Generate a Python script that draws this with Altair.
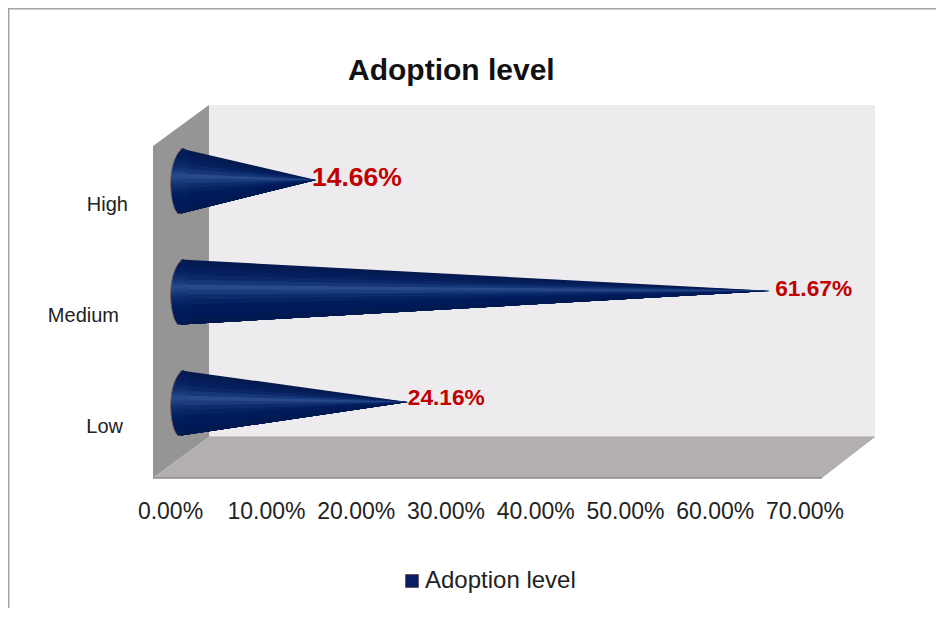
import altair as alt
import pandas as pd

FONT = "Liberation Sans"
categories = ["High", "Medium", "Low"]
values = [0.1466, 0.6167, 0.2416]
rows = [2, 1, 0]
ticks = [0, 0.1, 0.2, 0.3, 0.4, 0.5, 0.6, 0.7]
series = ["Adoption level"]
title = "Adoption level"

shades = ["#051a4f", "#041c57", "#06205e", "#0b2868", "#163677", "#264a8d", "#1b3b7c",
          "#0d2c6c", "#052262", "#001c5c", "#001b5a", "#001a56", "#02194f"]

# picture-space scales for the 3-D box (reference pixels)
PX = alt.Scale(domain=[8, 936], range=[0, 928])
PY = alt.Scale(domain=[8, 608], range=[0, 600])
CONE_X = alt.Scale(domain=[0, 0.7], range=[166.4, 842.6])
ROW_Y = alt.Scale(domain=[0, 2], range=[395, 173])
AXIS_X = alt.Scale(domain=[0, 0.1, 0.7], range=[162, 258, 796.5])


def box(color, xs, ys, y2s):
    d = pd.DataFrame({"x": xs, "y": ys, "y2": y2s})
    return alt.Chart(d).mark_area(color=color, orient="vertical", opacity=1).encode(
        x=alt.X("x:Q", scale=PX, axis=None),
        y=alt.Y("y:Q", scale=PY, axis=None),
        y2="y2:Q",
    )


def segment(color, width, x0, y0, x1, y1):
    d = pd.DataFrame({"x": [x0, x1], "y": [y0, y1]})
    return alt.Chart(d).mark_line(color=color, strokeWidth=width).encode(
        x=alt.X("x:Q", scale=PX, axis=None),
        y=alt.Y("y:Q", scale=PY, axis=None),
    )


back = box("#edebed", [209, 875], [105, 105], [437, 437])
left = box("#959595", [153, 209], [146, 105], [478, 437])
floor = box("#b2afae", [153, 209, 822, 875], [478, 437, 437, 437], [478, 478, 478, 437])
floor_edge = segment("#8d8b8a", 1.5, 153, 478, 822, 478)
floor_back = segment("#a9a6a5", 1, 209, 437, 875, 437)
frame_top = segment("#a3a3a3", 1.5, 8, 8.7, 936, 8.7)
frame_left = segment("#a3a3a3", 1.5, 8.7, 8, 8.7, 608)

# cones: nested slices fanning towards the tip, painted top to bottom
HALF = 0.293
TIP = 0.01
BASE = 0.0065
cone_rows = []
n = len(shades)
for cat, val, r in zip(categories, values, rows):
    for i, c in enumerate(shades):
        key = f"{cat}-{i:02d}"
        cone_rows.append({"k": key, "c": c, "x": BASE, "y": r + HALF - 2 * HALF * i / n, "y2": r - HALF})
        cone_rows.append({"k": key, "c": c, "x": val, "y": r + TIP, "y2": r + TIP})
cones = alt.Chart(pd.DataFrame(cone_rows)).mark_area(orient="vertical", interpolate="linear", opacity=1).encode(
    x=alt.X("x:Q", scale=CONE_X, axis=None),
    y=alt.Y("y:Q", scale=ROW_Y, axis=None),
    y2="y2:Q",
    detail="k:N",
    color=alt.Color("c:N", scale=None),
)

table = pd.DataFrame({"cat": categories, "val": values, "row": rows, "base": [BASE] * 3})
grad = alt.Gradient(
    gradient="linear", x1=0, x2=0, y1=0, y2=1,
    stops=[alt.GradientStop(offset=i / (n - 1), color=c) for i, c in enumerate(shades)],
)
BASE_CURVE = "M0.076,-1 C-0.2,-0.85 -0.33,-0.25 -0.30,0.2 C-0.29,0.55 -0.2,0.9 -0.076,1"
bases = alt.Chart(table).mark_point(
    shape=BASE_CURVE + " L0.15,0.9 L0.25,-0.9 Z", size=4356, filled=True, fill=grad, strokeWidth=0, opacity=1
).encode(
    x=alt.X("base:Q", scale=CONE_X, axis=None),
    y=alt.Y("row:Q", scale=ROW_Y, axis=None),
)
base_edges = alt.Chart(table).mark_point(
    shape=BASE_CURVE, size=4356, filled=False, stroke="#7d5a5a", strokeWidth=0.8, opacity=1
).encode(
    x=alt.X("base:Q", scale=CONE_X, axis=None),
    y=alt.Y("row:Q", scale=ROW_Y, axis=None),
)

layers = [back, left, floor, floor_back, floor_edge, frame_top, frame_left, cones, bases, base_edges]

# value labels
label_style = {"High": (26.5, -4, -3), "Medium": (22.7, 5, -3), "Low": (22.7, 0, -5)}
for cat in categories:
    fs, dx, dy = label_style[cat]
    layers.append(
        alt.Chart(table).transform_filter(alt.datum.cat == cat).mark_text(
            font=FONT, fontSize=fs, fontWeight="bold", color="#c00000", align="left", baseline="middle", dx=dx, dy=dy
        ).encode(
            x=alt.X("val:Q", scale=CONE_X, axis=None),
            y=alt.Y("row:Q", scale=ROW_Y, axis=None),
            text=alt.Text("val:Q", format=".2%"),
        )
    )

# category labels
cat_right = {"High": 120, "Medium": 111, "Low": 115}
for cat in categories:
    layers.append(
        alt.Chart(table).transform_filter(alt.datum.cat == cat).mark_text(
            font=FONT, fontSize=20, color="#222222", align="right", baseline="middle", dy=24
        ).encode(
            x=alt.value(cat_right[cat]),
            y=alt.Y("row:Q", scale=ROW_Y, axis=None),
            text="cat:N",
        )
    )

# value axis
axis_layer = alt.Chart(pd.DataFrame({"t": ticks})).mark_point(opacity=0).encode(
    x=alt.X("t:Q", scale=AXIS_X, axis=alt.Axis(
        values=ticks, format=".2%", title=None, grid=False, domain=False, ticks=False,
        labelFont=FONT, labelFontSize=23, labelColor="#222222", labelPadding=0,
        labelBaseline="middle", labelOverlap=False, labelFlush=False, offset=-97,
    )),
    y=alt.value(0),
)
layers.append(axis_layer)

# legend
legend_layer = alt.Chart(pd.DataFrame({"s": series})).mark_square(size=0, opacity=1).encode(
    x=alt.value(0), y=alt.value(0),
    color=alt.Color("s:N", scale=alt.Scale(domain=series, range=["#0a1f63"]), legend=alt.Legend(
        title=None, orient="none", legendX=392, legendY=561, symbolType="square", symbolSize=169,
        symbolStrokeColor="#6d5a60", symbolStrokeWidth=1, symbolOpacity=1,
        labelFont=FONT, labelFontSize=24, labelColor="#222222", labelLimit=300, labelOffset=1,
    )),
)
layers.append(legend_layer)

chart = alt.layer(*layers).resolve_scale(x="independent", y="independent", color="independent").properties(
    width=928, height=600, padding=0, autosize=alt.AutoSizeParams(type="none"), background="white",
    title=alt.TitleParams(title, font=FONT, fontSize=30, fontWeight="bold", color="#111111",
                          anchor="start", frame="group", baseline="alphabetic", dx=340, dy=105, offset=0),
).configure_view(stroke=None)

chart.save("out.html", embed_options={"renderer": "svg", "actions": False})
